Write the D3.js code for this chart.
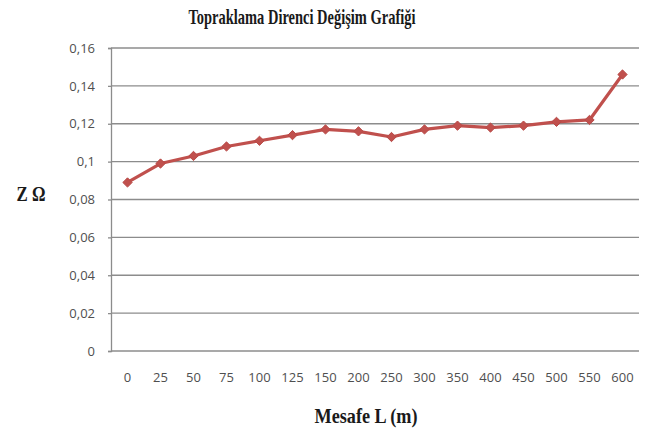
<!DOCTYPE html>
<html>
<head>
<meta charset="utf-8">
<script src="https://cdn.jsdelivr.net/npm/d3@7"></script>
<style>
  html, body { margin: 0; padding: 0; background: #fff; }
  svg { display: block; }
</style>
</head>
<body>
<svg id="chart" width="646" height="433"></svg>
<script>
// Distance along the line (m) and measured earthing resistance (ohm)
const distances = ["0", "25", "50", "75", "100", "125", "150", "200", "250", "300", "350", "400", "450", "500", "550", "600"];
const resistance = [0.089, 0.099, 0.103, 0.108, 0.111, 0.114, 0.117, 0.116, 0.113, 0.117, 0.119, 0.118, 0.119, 0.121, 0.122, 0.146];
const yTicks = [0, 0.02, 0.04, 0.06, 0.08, 0.1, 0.12, 0.14, 0.16];

const titleText = "Topraklama Direnci Değişim Grafiği";
const xTitle = "Mesafe  L (m)";
const yTitle = "Z Ω";

const svg = d3.select("#chart");
const margin = { left: 111, right: 7, top: 48, bottom: 82 };
const W = 646, H = 433;

const x = d3.scaleBand()
  .domain(distances)
  .range([margin.left, W - margin.right])
  .paddingInner(0).paddingOuter(0);

const y = d3.scaleLinear()
  .domain([0, 0.16])
  .range([H - margin.bottom, margin.top]);

const fmt = v => v === 0 ? "0" : String(+v.toFixed(2)).replace(".", ",");

// horizontal gridlines
svg.append("g")
  .selectAll("line")
  .data(yTicks)
  .join("line")
  .attr("x1", margin.left)
  .attr("x2", W - margin.right)
  .attr("y1", d => y(d))
  .attr("y2", d => y(d))
  .attr("stroke", "#8c8c8c")
  .attr("stroke-width", 1.3);

// y axis
const yAxis = svg.append("g")
  .attr("transform", `translate(${margin.left},0)`)
  .call(d3.axisLeft(y).tickValues(yTicks).tickFormat(fmt).tickSize(3).tickPadding(13));
yAxis.select(".domain").attr("stroke", "#8c8c8c").attr("stroke-width", 1.3);
yAxis.selectAll(".tick line").attr("stroke", "#8c8c8c").attr("stroke-width", 1.3);
yAxis.selectAll(".tick text")
  .attr("fill", "#4f4f4f")
  .style("font-family", "'Open Sans', sans-serif")
  .style("font-size", "13px");

// x axis labels
const xAxis = svg.append("g")
  .attr("transform", `translate(0,${y(0)})`)
  .call(d3.axisBottom(x).tickSize(0).tickPadding(22));
xAxis.select(".domain").remove();
xAxis.selectAll(".tick text")
  .attr("fill", "#4f4f4f")
  .style("font-family", "'Open Sans', sans-serif")
  .style("font-size", "13px");

// data line
const cx = d => x(d) + x.bandwidth() / 2;
const pts = distances.map((d, i) => [cx(d), y(resistance[i])]);

svg.append("path")
  .datum(pts)
  .attr("d", d3.line())
  .attr("fill", "none")
  .attr("stroke", "#c0504d")
  .attr("stroke-width", 3.2)
  .attr("stroke-linejoin", "round");

// diamond markers
const diamond = d3.symbol().type(d3.symbolDiamond2).size(55);
svg.append("g")
  .selectAll("path")
  .data(pts)
  .join("path")
  .attr("d", diamond)
  .attr("transform", d => `translate(${d[0]},${d[1]})`)
  .attr("fill", "#c0504d")
  .attr("stroke", "#b84a47")
  .attr("stroke-width", 1);

// titles
svg.append("text")
  .attr("x", 302).attr("y", 24)
  .attr("text-anchor", "middle")
  .attr("textLength", 227)
  .attr("lengthAdjust", "spacingAndGlyphs")
  .style("font-family", "'Liberation Serif', serif")
  .style("font-weight", "bold")
  .style("font-size", "21px")
  .attr("fill", "#1a1a1a")
  .text(titleText);

svg.append("text")
  .attr("x", 366).attr("y", 423)
  .attr("text-anchor", "middle")
  .attr("textLength", 103)
  .attr("lengthAdjust", "spacingAndGlyphs")
  .style("font-family", "'Liberation Serif', serif")
  .style("font-weight", "bold")
  .style("font-size", "21px")
  .attr("fill", "#1a1a1a")
  .text(xTitle);

svg.append("text")
  .attr("x", 31).attr("y", 201)
  .attr("text-anchor", "middle")
  .attr("textLength", 29)
  .attr("lengthAdjust", "spacingAndGlyphs")
  .style("font-family", "'Liberation Serif', serif")
  .style("font-weight", "bold")
  .style("font-size", "21px")
  .attr("fill", "#1a1a1a")
  .text(yTitle);
</script>
</body>
</html>
